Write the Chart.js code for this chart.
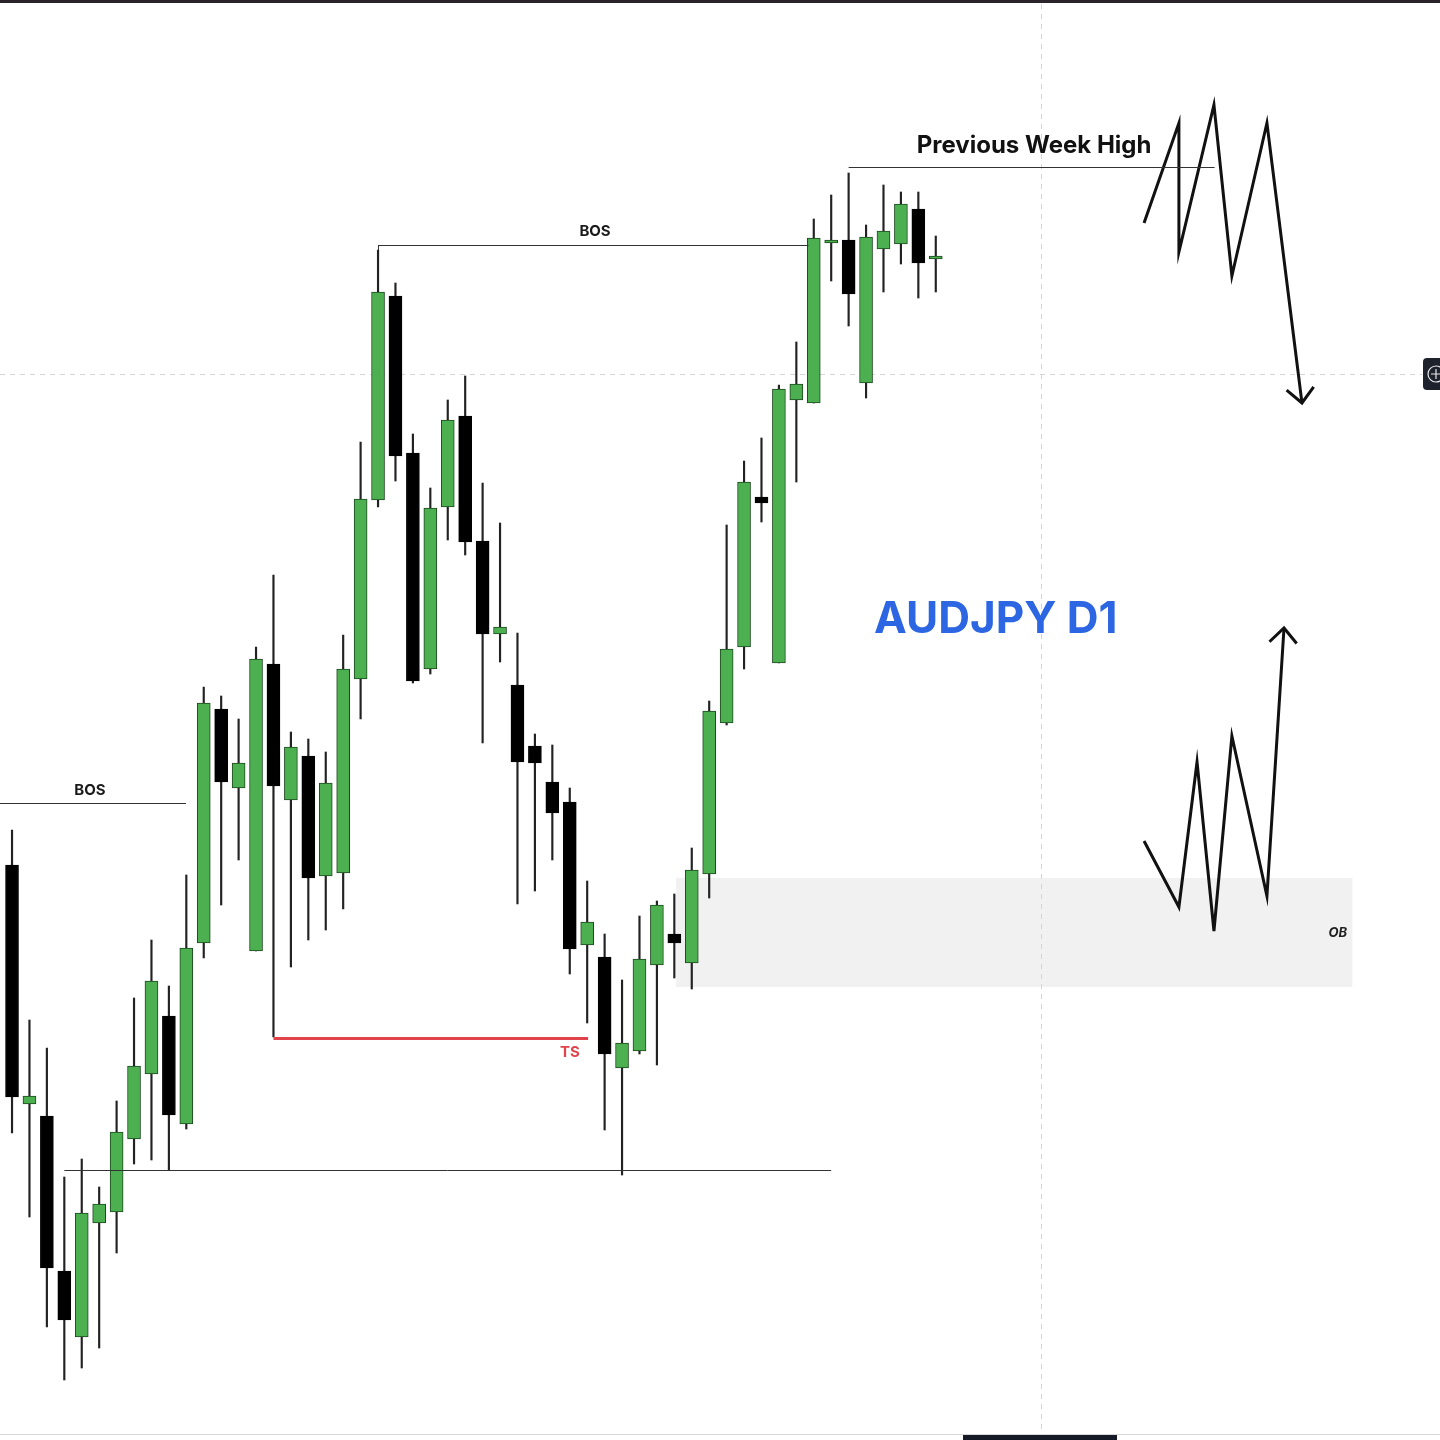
<!DOCTYPE html>
<html>
<head>
<meta charset="utf-8">
<title>AUDJPY D1</title>
<script src="https://cdn.jsdelivr.net/npm/chart.js@4.4.1/dist/chart.umd.min.js"></script>
<style>
    html, body { margin: 0; padding: 0; background: #ffffff; }
    #wrap { width: 1440px; height: 1440px; position: relative; }
</style>
</head>
<body>
<div id="wrap"><canvas id="chart"></canvas></div>
<script>
// daily candles, left to right
var opens  = [95.75, 93.36, 93.24, 91.69, 91.03, 92.17, 92.28, 93.01, 93.66, 94.24,
              93.16, 94.97, 97.31, 96.52, 94.89, 97.76, 96.40, 96.84, 95.64, 95.67,
              97.61, 99.40, 101.44, 99.87, 97.71, 99.33, 100.24, 98.99, 98.06, 97.55,
              96.94, 96.58, 96.38, 94.95, 94.83, 93.72, 93.89, 94.75, 95.06, 94.77,
              95.66, 97.17, 97.93, 99.43, 97.77, 100.40, 100.37, 101.97, 102.00, 100.57,
              101.91, 101.96, 102.31, 101.81];
var highs  = [96.10, 94.20, 93.92, 92.63, 92.81, 92.53, 93.39, 94.42, 95.00, 94.54,
              95.65, 97.53, 97.44, 97.21, 97.93, 98.65, 97.08, 97.01, 96.88, 98.05,
              99.98, 101.90, 101.57, 100.06, 99.52, 100.40, 100.64, 99.57, 99.17, 98.07,
              97.06, 96.95, 96.52, 95.59, 95.06, 94.60, 95.24, 95.39, 95.46, 95.92,
              97.39, 99.15, 99.79, 100.02, 100.55, 100.98, 102.21, 102.45, 102.67, 102.15,
              102.55, 102.48, 102.48, 102.04];
var lows   = [93.07, 92.23, 91.13, 90.60, 90.72, 90.92, 91.87, 92.76, 92.80, 92.70,
              93.11, 94.82, 95.35, 95.80, 94.89, 94.03, 94.73, 95.00, 95.10, 95.31,
              97.21, 99.33, 99.59, 97.57, 97.66, 99.00, 98.85, 96.97, 97.78, 95.36,
              95.49, 95.80, 94.66, 94.17, 93.10, 92.65, 93.86, 93.75, 94.62, 94.51,
              95.42, 97.15, 97.71, 99.18, 97.77, 99.58, 100.37, 101.59, 101.14, 100.42,
              101.48, 101.76, 101.42, 101.48];
var closes = [93.43, 93.44, 91.72, 91.20, 92.27, 92.36, 93.08, 93.74, 94.59, 93.25,
              94.92, 97.37, 96.58, 96.77, 97.81, 96.54, 96.93, 95.62, 96.57, 97.71,
              99.41, 101.48, 99.84, 97.59, 99.32, 100.20, 98.98, 98.06, 98.13, 96.78,
              96.77, 96.27, 94.91, 95.18, 93.86, 93.97, 94.81, 95.35, 94.97, 95.70,
              97.29, 97.91, 99.58, 99.37, 100.51, 100.56, 102.02, 101.99, 101.46, 102.03,
              102.09, 102.36, 101.77, 101.83];

// projected paths drawn on the right (bar index, price)
var bearPathX = [64.95, 66.95, 66.95, 68.96, 69.99, 72.00, 74.01];
var bearPathY = [102.17, 103.17, 101.88, 103.35, 101.64, 103.17, 100.37];
var bullPathX = [64.95, 66.95, 67.99, 68.96, 69.99, 72.00, 72.98];
var bullPathY = [95.99, 95.33, 96.78, 95.09, 97.04, 95.44, 98.12];

// marked levels
var bosLow = 96.37, bosHigh = 101.95, prevWeekHigh = 102.73;
var tsLevel = 94.03, swingLow = 92.70, crossPrice = 100.66, crossIndex = 59.04;
var obTop = 95.62, obBottom = 94.53;

var UP_FILL = '#4caf50', UP_LINE = '#1d4a1f', DOWN_FILL = '#000000';

var wickData = [], bodyData = [], bodyFill = [], bodyLine = [];
opens.forEach(function(o, i) {
    wickData.push({x: i, y: [lows[i], highs[i]]});
    bodyData.push({x: i, y: [o, closes[i]]});
    var up = closes[i] >= o;
    bodyFill.push(up ? UP_FILL : DOWN_FILL);
    bodyLine.push(up ? UP_LINE : DOWN_FILL);
});
function toPoints(xs, ys) {
    return xs.map(function(x, i) { return {x: x, y: ys[i]}; });
}

function hLine(ctx, xs, ys, x1, x2, price, color, width) {
    var y = Math.round(ys.getPixelForValue(price)) + 0.5;
    ctx.beginPath();
    ctx.strokeStyle = color;
    ctx.lineWidth = width;
    ctx.moveTo(x1, y);
    ctx.lineTo(x2, y);
    ctx.stroke();
}
function arrowHead(ctx, xs, ys, px, py) {
    var n = px.length;
    var tx = xs.getPixelForValue(px[n - 1]), ty = ys.getPixelForValue(py[n - 1]);
    var fx = xs.getPixelForValue(px[n - 2]), fy = ys.getPixelForValue(py[n - 2]);
    var a = Math.atan2(ty - fy, tx - fx), len = 20;
    ctx.beginPath();
    ctx.strokeStyle = '#111';
    ctx.lineWidth = 3;
    ctx.moveTo(tx - len * Math.cos(a - 0.75), ty - len * Math.sin(a - 0.75));
    ctx.lineTo(tx, ty);
    ctx.lineTo(tx - len * Math.cos(a + 0.75), ty - len * Math.sin(a + 0.75));
    ctx.stroke();
}

var drawings = {
    id: 'drawings',
    beforeDatasetsDraw: function(chart) {
        var ctx = chart.ctx, xs = chart.scales.x, ys = chart.scales.y;
        ctx.save();
        // order block zone
        var ox1 = xs.getPixelForValue(38.1), ox2 = xs.getPixelForValue(76.9);
        var oy1 = ys.getPixelForValue(obTop), oy2 = ys.getPixelForValue(obBottom);
        ctx.fillStyle = '#f1f1f1';
        ctx.fillRect(ox1, oy1, ox2 - ox1, oy2 - oy1);
        // crosshair
        ctx.setLineDash([5, 5]);
        hLine(ctx, xs, ys, 0, 1422, crossPrice, '#d4d4d4', 1);
        var cx = Math.round(xs.getPixelForValue(crossIndex)) + 0.5;
        ctx.beginPath();
        ctx.moveTo(cx, 4);
        ctx.lineTo(cx, 1432);
        ctx.stroke();
        ctx.setLineDash([]);
        ctx.restore();
    },
    afterDatasetsDraw: function(chart) {
        var ctx = chart.ctx, xs = chart.scales.x, ys = chart.scales.y;
        ctx.save();
        // level lines
        hLine(ctx, xs, ys, 0, xs.getPixelForValue(9.98), bosLow, '#333', 1);
        hLine(ctx, xs, ys, xs.getPixelForValue(21), xs.getPixelForValue(45.7), bosHigh, '#333', 1);
        var bx = Math.round(xs.getPixelForValue(21)) + 0.5;
        ctx.beginPath();
        ctx.moveTo(bx, ys.getPixelForValue(bosHigh));
        ctx.lineTo(bx, ys.getPixelForValue(highs[21]));
        ctx.stroke();
        hLine(ctx, xs, ys, xs.getPixelForValue(48), xs.getPixelForValue(69.0), prevWeekHigh, '#333', 1);
        hLine(ctx, xs, ys, xs.getPixelForValue(3), xs.getPixelForValue(47), swingLow, '#333', 1);
        hLine(ctx, xs, ys, xs.getPixelForValue(15), xs.getPixelForValue(33.05), tsLevel - 0.01, '#e2434b', 3);

        // arrow heads for the projected paths
        arrowHead(ctx, xs, ys, bearPathX, bearPathY);
        arrowHead(ctx, xs, ys, bullPathX, bullPathY);

        // labels
        ctx.textAlign = 'center';
        ctx.textBaseline = 'middle';
        ctx.fillStyle = '#1a1a1a';
        ctx.font = '700 15px Inter';
        ctx.fillText('BOS', xs.getPixelForValue(4.47), ys.getPixelForValue(bosLow + 0.13));
        ctx.fillText('BOS', xs.getPixelForValue(33.45), ys.getPixelForValue(bosHigh + 0.14));
        ctx.font = '700 24px Inter';
        ctx.fillStyle = '#111';
        ctx.fillText('Previous Week High', xs.getPixelForValue(58.64), ys.getPixelForValue(prevWeekHigh + 0.21));
        ctx.font = '700 15px Inter';
        ctx.fillStyle = '#e2434b';
        ctx.fillText('TS', xs.getPixelForValue(32.01), ys.getPixelForValue(tsLevel - 0.15));
        ctx.font = 'italic 700 13px Inter';
        ctx.fillStyle = '#222';
        ctx.fillText('OB', xs.getPixelForValue(76.07), ys.getPixelForValue(95.07));
        ctx.font = '700 44px Inter';
        ctx.fillStyle = '#2c66e2';
        ctx.textAlign = 'left';
        ctx.fillText('AUDJPY D1', 874, ys.getPixelForValue(98.20));

        // window chrome
        ctx.fillStyle = '#2a2428';
        ctx.fillRect(0, 0, 1440, 3);
        ctx.fillStyle = '#d8d8d8';
        ctx.fillRect(0, 1434, 1440, 1);
        ctx.fillStyle = '#151a26';
        ctx.fillRect(963, 1435, 154, 5);
        ctx.fillStyle = '#1e222d';
        ctx.beginPath();
        ctx.roundRect(1423, 358, 30, 32, 4);
        ctx.fill();
        ctx.strokeStyle = '#e8e8e8';
        ctx.lineWidth = 1.2;
        ctx.beginPath();
        ctx.arc(1436, 374, 8, 0, Math.PI * 2);
        ctx.moveTo(1431, 374); ctx.lineTo(1441, 374);
        ctx.moveTo(1436, 369); ctx.lineTo(1436, 379);
        ctx.stroke();
        ctx.restore();
    }
};

var ctx = document.getElementById('chart');
new Chart(ctx, {
    type: 'bar',
    data: {
        datasets: [{
            label: 'wick',
            data: wickData,
            backgroundColor: '#222',
            barThickness: 1.5,
            grouped: false,
            order: 2
        }, {
            label: 'body',
            data: bodyData,
            backgroundColor: bodyFill,
            borderColor: bodyLine,
            borderWidth: 1,
            borderSkipped: false,
            barThickness: 13,
            minBarLength: 3,
            grouped: false,
            order: 1
        }, {
            type: 'line',
            label: 'bear path',
            data: toPoints(bearPathX, bearPathY),
            borderColor: '#111',
            borderWidth: 3,
            pointRadius: 0,
            tension: 0,
            order: 0
        }, {
            type: 'line',
            label: 'bull path',
            data: toPoints(bullPathX, bullPathY),
            borderColor: '#111',
            borderWidth: 3,
            pointRadius: 0,
            tension: 0,
            order: 0
        }]
    },
    options: {
        responsive: true,
        maintainAspectRatio: false,
        animation: false,
        layout: { padding: 0 },
        plugins: { legend: { display: false }, tooltip: { enabled: false } },
        scales: {
            x: { type: 'linear', min: -0.69, max: 81.93, display: false, offset: false },
            y: { min: 90.0, max: 104.4, display: false }
        }
    },
    plugins: [drawings]
});
</script>
</body>
</html>
